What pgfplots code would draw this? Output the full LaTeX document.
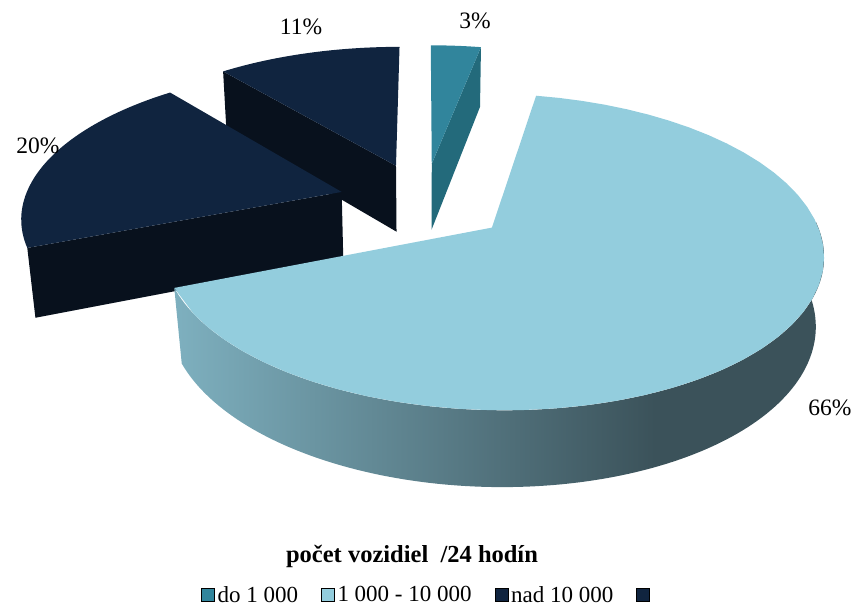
\documentclass[border=0pt]{standalone}
\usepackage{fontspec}
\setmainfont{Liberation Serif}
\usepackage{pgfplots}
\usepackage{pgfplotstable}
\pgfplotsset{compat=1.18}

\definecolor{cTeal}{HTML}{31859C}
\definecolor{cTealSide}{HTML}{236A7B}
\definecolor{cLB}{HTML}{93CDDD}
\definecolor{lbL}{HTML}{7EB0BF}
\definecolor{lbR}{HTML}{3B525A}
\definecolor{cNavy}{HTML}{10243F}
\definecolor{cNavySide}{HTML}{08111D}

\pgfdeclarehorizontalshading{lbside}{100bp}{color(0bp)=(lbL); color(25bp)=(lbL); color(62bp)=(lbR); color(75bp)=(lbR); color(100bp)=(lbR)}

\pgfplotstableread{
slice value
0 3
1 66
2 20
3 11
}\piedata

% top surface of an exploded slice: colour, start angle, end angle, offset u, offset w
\newcommand\pietop[5]{%
 \addplot[forget plot, draw=none, fill=#1, samples at={-1,0,0.02,...,0.98,1}]
  ({px(#4+(\t>-0.5)*sin(#2+max(\t,0)*(#3-#2)), #5+(\t>-0.5)*cos(#2+max(\t,0)*(#3-#2)), 0)},
   {py(#4+(\t>-0.5)*sin(#2+max(\t,0)*(#3-#2)), #5+(\t>-0.5)*cos(#2+max(\t,0)*(#3-#2)), 0)});
}
% radial cut face: colour, angle, offset u, offset w
\newcommand\pieface[4]{%
 \addplot[forget plot, draw=none, fill=#1, samples at={0,1,2,3}]
  ({px(#3+(\t>0.5)*(\t<2.5)*sin(#2), #4+(\t>0.5)*(\t<2.5)*cos(#2), (\t>1.5))},
   {py(#3+(\t>0.5)*(\t<2.5)*sin(#2), #4+(\t>0.5)*(\t<2.5)*cos(#2), (\t>1.5))});
}

\begin{document}
\begin{tikzpicture}[declare function={
  px(\u,\w,\L)=424+318*\u/(1+0.02*\L+0.15*\w);
  py(\u,\w,\L)=404.3+(146.7*\w-69*\L)/(1+0.02*\L+0.15*\w);
}]
\pgfplotstablegetelem{0}{value}\of\piedata \pgfmathsetmacro\vA{\pgfplotsretval}
\pgfplotstablegetelem{1}{value}\of\piedata \pgfmathsetmacro\vB{\pgfplotsretval}
\pgfplotstablegetelem{2}{value}\of\piedata \pgfmathsetmacro\vC{\pgfplotsretval}
\pgfplotstablegetelem{3}{value}\of\piedata \pgfmathsetmacro\vD{\pgfplotsretval}
\pgfmathsetmacro\sA{0}
\pgfmathsetmacro\eA{\sA+3.6*\vA}
\pgfmathsetmacro\eB{\eA+3.6*\vB}
\pgfmathsetmacro\eC{\eB+3.6*\vC}
\pgfmathsetmacro\eD{\eC+3.6*\vD}
\def\ex{0.27}
\pgfmathsetmacro\ouA{\ex*sin((\sA+\eA)/2)}\pgfmathsetmacro\owA{\ex*cos((\sA+\eA)/2)}
\pgfmathsetmacro\ouB{\ex*sin((\eA+\eB)/2)}\pgfmathsetmacro\owB{\ex*cos((\eA+\eB)/2)}
\pgfmathsetmacro\ouC{\ex*sin((\eB+\eC)/2)}\pgfmathsetmacro\owC{\ex*cos((\eB+\eC)/2)}
\pgfmathsetmacro\ouD{\ex*sin((\eC+\eD)/2)}\pgfmathsetmacro\owD{\ex*cos((\eC+\eD)/2)}
\begin{axis}[
  width=857pt, height=606pt, scale only axis,
  xmin=0, xmax=857, ymin=0, ymax=606,
  axis lines=none, clip=false, variable=\t,
  legend columns=4,
  legend cell align=left,
  legend image code/.code={\path[#1] (0pt,-6.5pt) rectangle (13pt,6.5pt);},
  legend style={at={(axis cs:201,11)}, anchor=west, draw=none, fill=none,
    inner sep=0pt, font=\fontsize{23}{27}\selectfont,
    nodes={inner sep=3pt},
    /tikz/every even column/.append style={column sep=20pt}},
]
\path (axis cs:0,0) rectangle (axis cs:857,606);
% 11 % slice (back left)
\pieface{cNavySide}{\eC}{\ouD}{\owD}
\pietop{cNavy}{\eC}{\eD}{\ouD}{\owD}
% 3 % slice (back)
\pieface{cTealSide}{\eA}{\ouA}{\owA}
\pietop{cTeal}{\sA}{\eA}{\ouA}{\owA}
% 20 % slice (left)
\pieface{cNavySide}{\eB}{\ouC}{\owC}
\pietop{cNavy}{\eB}{\eC}{\ouC}{\owC}
% 66 % slice (front): curved side then top
\addplot[forget plot, draw=none, shade, shading=lbside, domain=0:2, samples=241]
 ({px(\ouB+sin(88+min(\t,2-\t)*(\eB-88)), \owB+cos(88+min(\t,2-\t)*(\eB-88)), (\t>1))},
  {py(\ouB+sin(88+min(\t,2-\t)*(\eB-88)), \owB+cos(88+min(\t,2-\t)*(\eB-88)), (\t>1))});
\pietop{cLB}{\eA}{\eB}{\ouB}{\owB}

\addlegendimage{fill=cTeal}\addlegendentry{do 1 000}
\addlegendimage{fill=cLB}\addlegendentry{1 000 - 10 000}
\addlegendimage{fill=cNavy}\addlegendentry{nad 10 000}
\addlegendimage{fill=cNavy}\addlegendentry{}

\node[font=\fontsize{23.5}{28}\selectfont] at (axis cs:475,585) {3\%};
\node[font=\fontsize{23.5}{28}\selectfont] at (axis cs:301,579) {11\%};
\node[font=\fontsize{23.5}{28}\selectfont] at (axis cs:38,460) {20\%};
\node[font=\fontsize{23.5}{28}\selectfont] at (axis cs:830,198) {66\%};
\node[font=\bfseries\fontsize{24.5}{29}\selectfont, anchor=base] at (axis cs:412,43) {počet vozidiel\ \ /24 hodín};
\end{axis}
\end{tikzpicture}
\end{document}
